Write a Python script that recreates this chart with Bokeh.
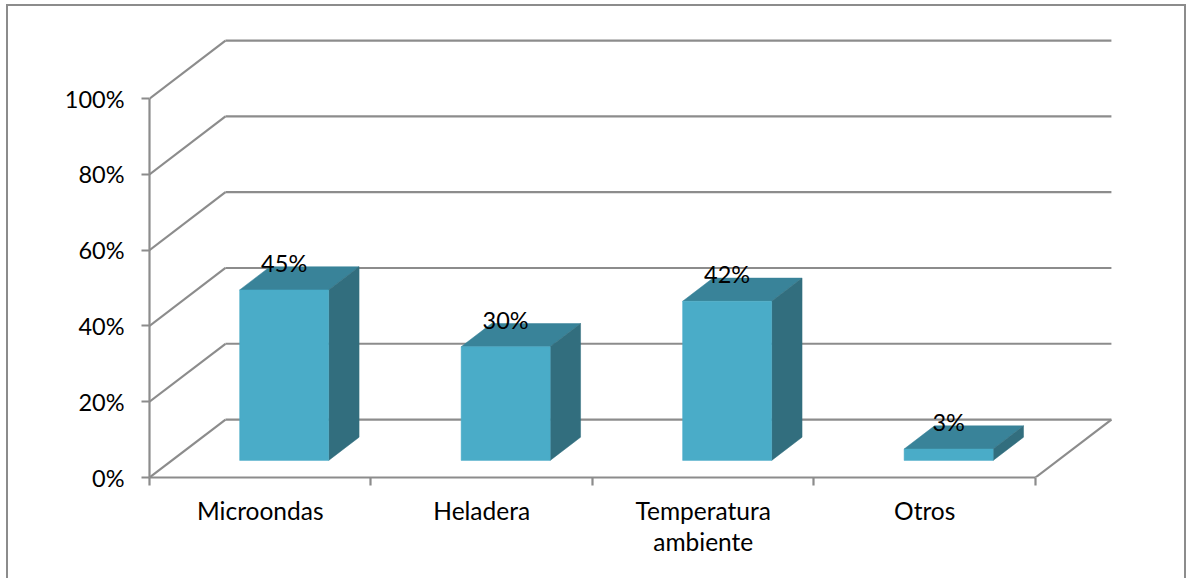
from bokeh.embed import file_html
from bokeh.models import FixedTicker, LinearAxis, Range1d
from bokeh.plotting import figure
from bokeh.resources import INLINE
from bokeh.core.properties import value

categories = ["Microondas", "Heladera", "Temperatura\nambiente", "Otros"]
percentages = [45, 30, 42, 3]
labels = ["45%", "30%", "42%", "3%"]
y_ticks = [0, 20, 40, 60, 80, 100]

FRONT = "#4aacc8"
TOP = "#398399"
SIDE = "#326e7e"
GRID = "#8c8c8c"
FONT = "Lato"
TICK_SIZE = "23.5px"
CATEGORY_SIZE = "24.5px"

# Oblique projection: how far the back wall sits from the front plane, in data units
DEPTH_X = 0.343
DEPTH_Y = 15.3
BAR_WIDTH = 0.402
BAR_X_OFFSET = 0.108
BAR_FRONT = 0.295
BAR_BACK = 0.695

# Chart area border: left, top and right edges, running off the bottom of the page
paint = f"linear-gradient({GRID},{GRID})"
border_css = {
    "background-image": f"{paint},{paint},{paint}",
    "background-position": "6px 4px,6px 4px,1184px 4px",
    "background-size": "2px 100%,1180px 2px,2px 100%",
    "background-repeat": "no-repeat",
}

n = len(categories)
p = figure(
    width=1186, height=578, output_backend="svg", toolbar_location=None,
    x_range=Range1d(0, 4.682), y_range=Range1d(0, 125.9),
    x_axis_location=None, y_axis_location=None,
    min_border_left=149, min_border_right=0, min_border_top=0, min_border_bottom=101,
    outline_line_color=None, background_fill_color=None, border_fill_color=None,
    styles=border_css,
)
p.grid.visible = False

# Back wall lines and the diagonals joining them to the value axis
p.multi_line(
    [[DEPTH_X, n + DEPTH_X] for _ in y_ticks],
    [[v + DEPTH_Y, v + DEPTH_Y] for v in y_ticks],
    line_color=GRID, line_width=2.2,
)
p.multi_line(
    [[0, DEPTH_X] for _ in y_ticks],
    [[v, v + DEPTH_Y] for v in y_ticks],
    line_color=GRID, line_width=2.2,
)
p.line([n, n + DEPTH_X], [0, DEPTH_Y], line_color=GRID, line_width=2.2)

# Bars: front face, then the top and right faces in perspective
front_left = [i + 0.5 + BAR_X_OFFSET - BAR_WIDTH / 2 for i in range(n)]
front_right = [x + BAR_WIDTH for x in front_left]
front_bottom = BAR_FRONT * DEPTH_Y
shift = BAR_BACK - BAR_FRONT
dx, dy = shift * DEPTH_X, shift * DEPTH_Y

p.patches(
    [[l, r, r + dx, l + dx] for l, r in zip(front_left, front_right)],
    [[front_bottom + v, front_bottom + v, front_bottom + v + dy, front_bottom + v + dy] for v in percentages],
    fill_color=TOP, line_color=TOP, line_width=0.5,
)
p.patches(
    [[r, r + dx, r + dx, r] for r in front_right],
    [[front_bottom, front_bottom + dy, front_bottom + v + dy, front_bottom + v] for v in percentages],
    fill_color=SIDE, line_color=SIDE, line_width=0.5,
)
p.quad(
    left=front_left, right=front_right,
    bottom=[front_bottom] * n, top=[front_bottom + v for v in percentages],
    fill_color=FRONT, line_color=FRONT, line_width=0.5,
)

# Value labels above the bars
p.text(
    x=[i + 0.5 + BAR_X_OFFSET for i in range(n)],
    y=[front_bottom + v + dy for v in percentages],
    text=labels, text_align="center", text_baseline="middle", y_offset=-4,
    text_font=value(FONT), text_font_size=TICK_SIZE, text_color="black",
)

# Value axis
y_axis = LinearAxis(
    bounds=(0, 100), ticker=FixedTicker(ticks=y_ticks),
    major_label_overrides={v: f"{v}%" for v in y_ticks},
    axis_line_color=GRID, axis_line_width=2.2,
    major_tick_line_color=GRID, major_tick_line_width=2.2,
    major_tick_in=0, major_tick_out=8, minor_tick_in=0, minor_tick_out=0,
    major_label_standoff=17, major_label_text_font=FONT,
    major_label_text_font_size=TICK_SIZE, major_label_text_color="black",
)
p.add_layout(y_axis, "left")

# Category axis: labels sit at the centres, tick marks at the category edges
x_axis = LinearAxis(
    bounds=(0, n),
    ticker=FixedTicker(ticks=[i + 0.5 for i in range(n)], minor_ticks=list(range(n + 1))),
    major_label_overrides={i + 0.5: c for i, c in enumerate(categories)},
    axis_line_color=GRID, axis_line_width=2.2,
    major_tick_in=0, major_tick_out=0, major_tick_line_color=None,
    minor_tick_in=0, minor_tick_out=8, minor_tick_line_color=GRID, minor_tick_line_width=2.2,
    major_label_standoff=10, major_label_text_font=FONT,
    major_label_text_font_size=CATEGORY_SIZE, major_label_text_color="black",
    major_label_text_line_height=1.1,
)
p.add_layout(x_axis, "below")

open("out.html", "w").write(file_html(p, INLINE))
